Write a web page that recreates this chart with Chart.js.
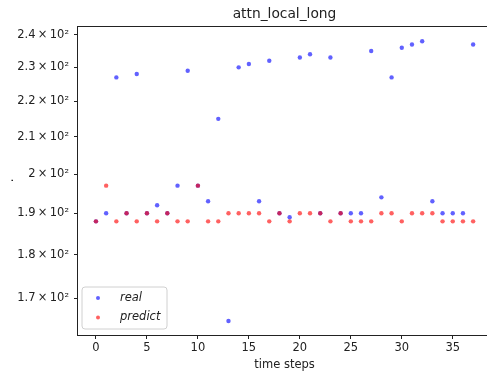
<!DOCTYPE html>
<html>
<head>
<meta charset="utf-8">
<script src="https://cdn.jsdelivr.net/npm/chart.js@4"></script>
<style>
  html, body { margin: 0; padding: 0; background: #fff; overflow: hidden; }
  #wrap { width: 497px; height: 374px; position: relative; }
</style>
</head>
<body>
<div id="wrap"><canvas id="scatterChart"></canvas></div>
<script>
// ---- data ----
const timeSteps = [0, 1, 2, 3, 4, 5, 6, 7, 8, 9, 10, 11, 12, 13, 14, 15, 16, 17, 18, 19,
                   20, 21, 22, 23, 24, 25, 26, 27, 28, 29, 30, 31, 32, 33, 34, 35, 36, 37];
const realValues = [188, 190, 227, 190, 228, 190, 192, 190, 197, 229, 197, 193, 215, 165, 230, 231, 193, 232, 190, 189,
                    233, 234, 190, 233, 190, 190, 190, 235, 194, 227, 236, 237, 238, 193, 190, 190, 190, 237];
const predictValues = [188, 197, 188, 190, 188, 190, 188, 190, 188, 188, 197, 188, 188, 190, 190, 190, 190, 188, 190, 188,
                       190, 190, 190, 188, 190, 188, 188, 188, 190, 190, 188, 190, 190, 190, 188, 188, 188, 188];
const xTicks = [0, 5, 10, 15, 20, 25, 30, 35];
const yTicks = [170, 180, 190, 200, 210, 220, 230, 240];
const yTickLabels = ['1.7\u2009\u00d7\u200910\u00b2', '1.8\u2009\u00d7\u200910\u00b2', '1.9\u2009\u00d7\u200910\u00b2',
                     '2\u2009\u00d7\u200910\u00b2', '2.1\u2009\u00d7\u200910\u00b2', '2.2\u2009\u00d7\u200910\u00b2',
                     '2.3\u2009\u00d7\u200910\u00b2', '2.4\u2009\u00d7\u200910\u00b2'];

const FONT = 'DejaVu Sans';
const ink = '#222';

const ctx = document.getElementById('scatterChart').getContext('2d');

// matplotlib style legend box in the lower left corner
const boxLegend = {
    id: 'boxLegend',
    afterDatasetsDraw(chart) {
        const c = chart.ctx;
        const area = chart.chartArea;
        const x = area.left + 5, y = area.bottom - 48, w = 85, h = 42, r = 3;
        c.save();
        c.beginPath();
        c.moveTo(x + r, y);
        c.arcTo(x + w, y, x + w, y + h, r);
        c.arcTo(x + w, y + h, x, y + h, r);
        c.arcTo(x, y + h, x, y, r);
        c.arcTo(x, y, x + w, y, r);
        c.closePath();
        c.fillStyle = 'rgba(255,255,255,0.8)';
        c.fill();
        c.strokeStyle = '#d0d0d0';
        c.lineWidth = 1;
        c.stroke();
        c.font = 'italic 11.5px "' + FONT + '"';
        c.textBaseline = 'middle';
        chart.data.datasets.forEach((ds, i) => {
            const yy = y + 11 + i * 19.5;
            c.fillStyle = ds.backgroundColor;
            c.beginPath();
            c.arc(x + 16, yy, 2, 0, Math.PI * 2);
            c.fill();
            c.fillStyle = ink;
            c.fillText(ds.label, x + 38, yy);
        });
        c.restore();
    }
};

const chartData = {
    type: 'scatter',
    data: {
        datasets: [
            {
                label: 'real',
                data: timeSteps.map((t, i) => ({ x: t, y: realValues[i] })),
                backgroundColor: 'rgba(0,0,255,0.62)',
                borderWidth: 0,
                pointRadius: 2.2,
                order: 1,
            },
            {
                // drawn on top of the blue points, like matplotlib
                label: 'predict',
                data: timeSteps.map((t, i) => ({ x: t, y: predictValues[i] })),
                backgroundColor: 'rgba(255,0,0,0.62)',
                borderWidth: 0,
                pointRadius: 2.2,
                order: 0,
            },
        ],
    },
    options: {
        responsive: true,
        maintainAspectRatio: false,
        animation: false,
        layout: { padding: { right: 5 }, autoPadding: false },
        plugins: {
            legend: { display: false },
            tooltip: { enabled: false },
        },
        scales: {
            x: {
                type: 'linear',
                position: 'bottom',
                min: -1.86,
                max: 38.85,
                bounds: 'data',
                afterBuildTicks: (scale) => { scale.ticks = xTicks.map(v => ({ value: v })); },
                afterFit: (scale) => { scale.height = 39; },
                grid: { drawOnChartArea: false, tickLength: 4, color: ink },
                border: { color: ink, width: 1 },
                ticks: { font: { family: FONT, size: 11.5 }, color: ink, padding: 2, maxRotation: 0 },
                title: {
                    display: true,
                    text: 'time steps',
                    font: { family: FONT, size: 11.5 },
                    color: ink,
                    padding: { top: 0, bottom: 2 },
                },
            },
            xTop: {
                type: 'linear',
                position: 'top',
                min: -1.86,
                max: 38.85,
                bounds: 'data',
                afterBuildTicks: (scale) => { scale.ticks = []; },
                afterFit: (scale) => { scale.height = 26; },
                grid: { display: false },
                border: { display: true, color: ink, width: 1 },
                ticks: { display: false },
                title: {
                    display: true,
                    text: 'attn_local_long',
                    font: { family: FONT, size: 13.8 },
                    color: ink,
                    padding: { top: 6, bottom: 0 },
                },
            },
            y: {
                type: 'logarithmic',
                position: 'left',
                min: 162.0,
                max: 242.8,
                bounds: 'data',
                afterBuildTicks: (scale) => { scale.ticks = yTicks.map(v => ({ value: v })); },
                afterFit: (scale) => { scale.width = 77; },
                grid: { drawOnChartArea: false, tickLength: 3, color: ink },
                border: { color: ink, width: 1 },
                ticks: {
                    font: { family: FONT, size: 11.5 },
                    color: ink,
                    padding: 5,
                    autoSkip: false,
                    callback: (value) => {
                        const i = yTicks.indexOf(value);
                        return i >= 0 ? yTickLabels[i] : '';
                    },
                },
                title: {
                    display: true,
                    text: '.',
                    font: { family: FONT, size: 11.5 },
                    color: ink,
                    padding: { top: 3, bottom: 0 },
                },
            },
        },
    },
    plugins: [boxLegend],
};

const scatterChart = new Chart(ctx, chartData);
</script>
</body>
</html>
